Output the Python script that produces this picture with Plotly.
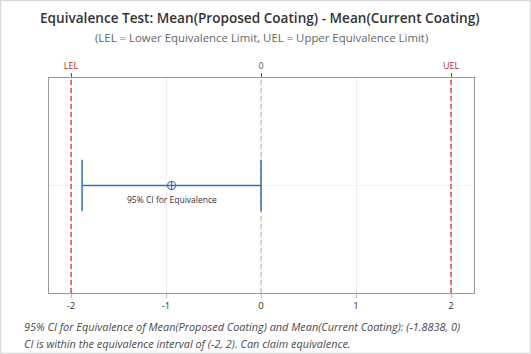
import plotly.graph_objects as go

# Data
ci_lower = -1.8838
ci_upper = 0.0
lel = -2.0
uel = 2.0
ci_label = "95% CI for Equivalence"
bottom_ticks = [-2, -1, 0, 1, 2]
top_tick_vals = [-2, 0, 2]
top_tick_text = ['<span style="color:#c0282d">LEL</span>', "0", '<span style="color:#c0282d">UEL</span>']
title = "Equivalence Test: Mean(Proposed Coating) - Mean(Current Coating)"
subtitle = "(LEL = Lower Equivalence Limit, UEL = Upper Equivalence Limit)"
foot1 = "95% CI for Equivalence of Mean(Proposed Coating) and Mean(Current Coating): (-1.8838, 0)"
foot2 = "CI is within the equivalence interval of (-2, 2). Can claim equivalence."

FONT = "Open Sans"
blue = "#3670b8"
red = "#d9232a"

W, H = 531, 354
ml, mr, mt, mb = 49, 57, 78, 61
pw, ph = W - ml - mr, H - mt - mb

fig = go.Figure()

# Equivalence limits
for v in [lel, uel]:
    fig.add_trace(go.Scatter(x=[v, v], y=[0, 1], mode="lines",
                             line=dict(color=red, width=1.2, dash="5px,3px"),
                             hoverinfo="skip", showlegend=False))
# Zero line
fig.add_trace(go.Scatter(x=[0, 0], y=[0, 1], mode="lines",
                         line=dict(color="#bdbdbd", width=1.2, dash="5px,3px"),
                         hoverinfo="skip", showlegend=False))

cap = 0.12
# CI line
fig.add_trace(go.Scatter(x=[ci_lower, ci_upper], y=[0.5, 0.5], mode="lines",
                         line=dict(color=blue, width=1.3), showlegend=False))
# caps
for v in [ci_lower, ci_upper]:
    fig.add_trace(go.Scatter(x=[v, v], y=[0.5 - cap, 0.5 + cap], mode="lines",
                             line=dict(color=blue, width=1.5), showlegend=False))
mid = (ci_lower + ci_upper) / 2
fig.add_trace(go.Scatter(x=[mid], y=[0.5], mode="markers",
                         marker=dict(symbol="circle-cross-open", size=8,
                                     color=blue, line=dict(width=1.1)),
                         showlegend=False))
fig.add_annotation(x=mid, y=0.5, yshift=-14, text=ci_label, showarrow=False,
                   font=dict(family=FONT, size=8.5, color="#333333"))

# dummy trace for top axis
fig.add_trace(go.Scatter(x=[lel, uel], y=[0.5, 0.5], xaxis="x2", mode="markers",
                         marker=dict(opacity=0), hoverinfo="skip", showlegend=False))

xr = [-2.232, 2.242]
fig.update_layout(
    width=W, height=H,
    margin=dict(l=ml, r=mr, t=mt, b=mb),
    paper_bgcolor="white", plot_bgcolor="white",
    xaxis=dict(range=xr, tickvals=bottom_ticks, ticktext=[str(t) for t in bottom_ticks],
               showgrid=True, gridcolor="#ececec", gridwidth=1,
               zeroline=False, showline=True, linecolor="#9a9a9a", linewidth=1, mirror=True,
               ticks="outside", ticklen=4, tickcolor="#bdbdbd",
               tickfont=dict(family=FONT, size=9.5, color="#333333")),
    xaxis2=dict(range=xr, overlaying="x", side="top", tickvals=top_tick_vals,
                ticktext=top_tick_text, showgrid=False, zeroline=False,
                ticks="outside", ticklen=4, tickcolor="#c0282d",
                tickfont=dict(family=FONT, size=9, color="#555555")),
    yaxis=dict(range=[0, 1], showticklabels=False, ticks="", tickvals=[0.5],
               showgrid=True, gridcolor="#f0f0f0", zeroline=False,
               showline=True, linecolor="#9a9a9a", mirror=True),
    font=dict(family=FONT),
    showlegend=False,
)

def py(y_px):
    return (H - mb - y_px) / ph

def px(x_px):
    return (x_px - ml) / pw

fig.add_annotation(xref="paper", yref="paper", x=px(260), y=py(18),
                   text=title, showarrow=False, xanchor="center", yanchor="middle",
                   font=dict(family=FONT, size=13.6, color="#333333", weight=600))
fig.add_annotation(xref="paper", yref="paper", x=px(261), y=py(38),
                   text=subtitle, showarrow=False, xanchor="center", yanchor="middle",
                   font=dict(family=FONT, size=11.4, color="#666666"))
fig.add_annotation(xref="paper", yref="paper", x=px(22), y=py(326),
                   text=foot1, showarrow=False, xanchor="left", yanchor="middle",
                   font=dict(family=FONT, size=10.9, color="#4a4a4a", style="italic"))
fig.add_annotation(xref="paper", yref="paper", x=px(22), y=py(343),
                   text=foot2, showarrow=False, xanchor="left", yanchor="middle",
                   font=dict(family=FONT, size=10.9, color="#4a4a4a", style="italic"))

# outer border
fig.add_shape(type="rect", xref="paper", yref="paper",
              x0=px(0.5), x1=px(W - 0.5), y0=py(H - 0.5), y1=py(0.5),
              line=dict(color="#d9d9d9", width=1.5), layer="below")

fig.write_html("out.html")
